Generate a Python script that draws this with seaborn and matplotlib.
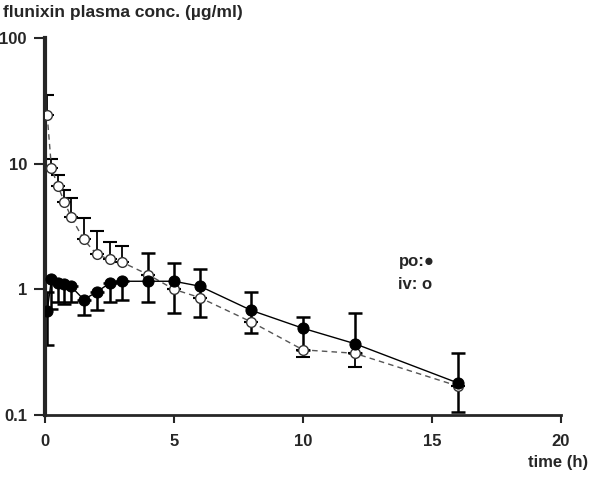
import numpy as np
import pandas as pd
import matplotlib
matplotlib.use("Agg")
import matplotlib.pyplot as plt
import seaborn as sns

# time points (h)
iv_time = [0.083, 0.25, 0.5, 0.75, 1.0, 1.5, 2.0, 2.5, 3.0, 4.0, 5.0, 6.0, 8.0, 10.0, 12.0, 16.0]
iv_conc = [24.5, 9.3, 6.6, 5.0, 3.8, 2.5, 1.9, 1.73, 1.64, 1.31, 1.0, 0.86, 0.55, 0.33, 0.31, 0.17]
iv_upper = [35, 11, 8.2, 6.2, 5.3, 3.7, 2.94, 2.4, 2.23, 1.31, 1.0, 0.86, 0.55, 0.33, 0.31, 0.17]
iv_lower = [24.5, 9.3, 6.6, 5.0, 3.8, 2.5, 1.9, 1.73, 1.64, 1.31, 1.0, 0.86, 0.55, 0.29, 0.24, 0.17]

po_time = [0.083, 0.25, 0.5, 0.75, 1.0, 1.5, 2.0, 2.5, 3.0, 4.0, 5.0, 6.0, 8.0, 10.0, 12.0, 16.0]
po_conc = [0.67, 1.2, 1.12, 1.1, 1.06, 0.83, 0.95, 1.12, 1.16, 1.16, 1.16, 1.06, 0.68, 0.49, 0.37, 0.18]
po_upper = [0.95, 1.2, 1.12, 1.1, 1.06, 0.83, 0.95, 1.12, 1.16, 1.93, 1.61, 1.44, 0.95, 0.60, 0.645, 0.31]
po_lower = [0.36, 0.7, 0.80, 0.76, 0.79, 0.63, 0.69, 0.79, 0.82, 0.79, 0.645, 0.60, 0.45, 0.33, 0.31, 0.106]

x_ticks = [0, 5, 10, 15, 20]
y_ticks = [0.1, 1, 10, 100]
y_tick_labels = ["0.1", "1", "10", "100"]

iv = pd.DataFrame({"time": iv_time, "conc": iv_conc})
po = pd.DataFrame({"time": po_time, "conc": po_conc})

sns.set_style("ticks")
plt.rcParams["font.family"] = ["Liberation Sans", "DejaVu Sans"]
plt.rcParams["font.weight"] = "bold"

fig = plt.figure(figsize=(6.0, 4.82), dpi=100)
ax = fig.add_axes([0.075, 0.139, 0.86, 0.782])

# error bars
ax.errorbar(iv["time"], iv["conc"],
            yerr=[np.array(iv_conc) - np.array(iv_lower), np.array(iv_upper) - np.array(iv_conc)],
            fmt="none", ecolor="black", elinewidth=1.3, capsize=5, capthick=1.5, zorder=2)
ax.errorbar(po["time"], po["conc"],
            yerr=[np.array(po_conc) - np.array(po_lower), np.array(po_upper) - np.array(po_conc)],
            fmt="none", ecolor="black", elinewidth=1.8, capsize=5, capthick=1.8, zorder=2)

sns.lineplot(data=iv, x="time", y="conc", ax=ax, color="#555555", linestyle=(0, (4, 3)),
             linewidth=1.0, marker="o", markersize=7, markerfacecolor="white",
             markeredgecolor="#333333", markeredgewidth=1.0, zorder=3)
sns.lineplot(data=po, x="time", y="conc", ax=ax, color="black", linewidth=1.0,
             marker="o", markersize=8, markerfacecolor="black",
             markeredgecolor="black", zorder=4)

ax.set_yscale("log")
ax.set_ylim(0.1, 100)
ax.set_xlim(0, 20)
ax.set_xticks(x_ticks)
ax.set_xticklabels([str(t) for t in x_ticks], fontsize=12, fontweight="bold")
ax.set_yticks(y_ticks)
ax.set_yticklabels(y_tick_labels, fontsize=12, fontweight="bold")
ax.yaxis.set_minor_locator(matplotlib.ticker.NullLocator())
ax.tick_params(axis="y", width=1.5, length=8, pad=5)
ax.tick_params(axis="x", width=1.5, length=6, pad=8)
ax.set_xlabel("")
ax.set_ylabel("")

for side in ["top", "right"]:
    ax.spines[side].set_visible(False)
ax.spines["left"].set_linewidth(3)
ax.spines["bottom"].set_linewidth(2)

fig.text(0.005, 0.975, "flunixin plasma conc. (\u00b5g/ml)", fontsize=12.5,
         fontweight="bold", ha="left", va="center")
fig.text(0.98, 0.04, "time (h)", fontsize=12, fontweight="bold", ha="right", va="center")

ax.text(0.685, 0.406, "po:\u25cf", transform=ax.transAxes, fontsize=12,
        fontweight="bold", ha="left", va="center")
ax.text(0.685, 0.345, "iv: o", transform=ax.transAxes, fontsize=12,
        fontweight="bold", ha="left", va="center")

fig.savefig("out.png", dpi=100)
